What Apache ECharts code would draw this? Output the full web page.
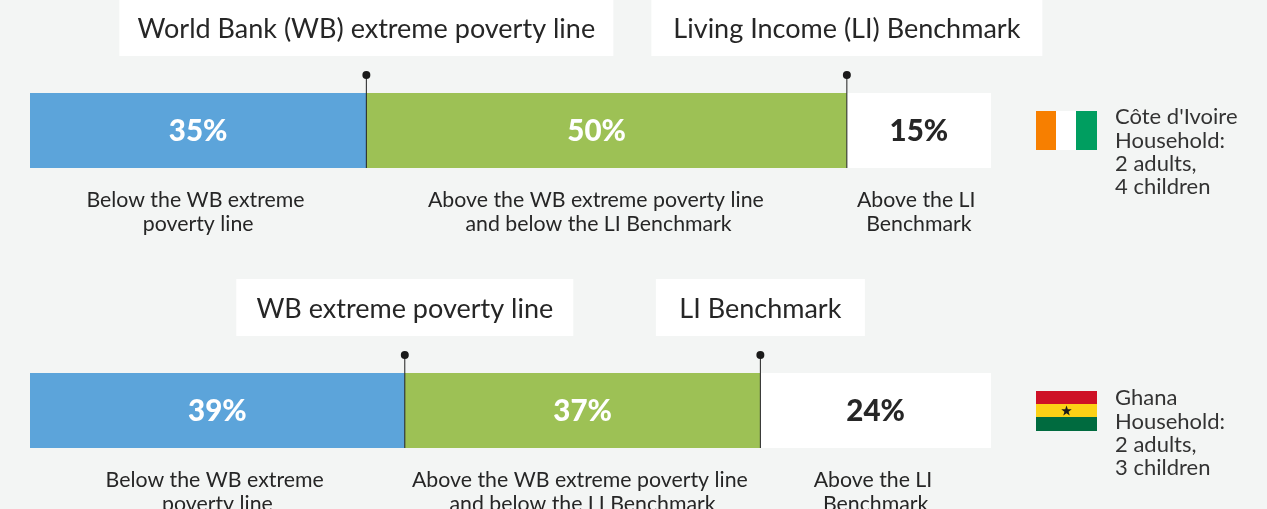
<!DOCTYPE html>
<html>
<head>
<meta charset="utf-8">
<title>Household income against poverty lines</title>
<script src="https://cdn.jsdelivr.net/npm/echarts@6/dist/echarts.min.js"></script>
<style>
  html, body { margin: 0; padding: 0; background: #f3f5f4; overflow: hidden; }
  #chart { width: 1267px; height: 509px; }
</style>
</head>
<body>
<div id="chart"></div>
<script>
const segments = ['Below', 'Between', 'Above']
const civValues = [35, 50, 15]
const ghanaValues = [39, 37, 24]
const civMarkers = ['World Bank (WB) extreme poverty line', 'Living Income (LI) Benchmark']
const ghanaMarkers = ['WB extreme poverty line', 'LI Benchmark']
// the source has a trailing space on the first lines, which shifts them left a little
const segmentNotes = [
  'Below the WB extreme \npoverty line',
  'Above the WB extreme poverty line \nand below the LI Benchmark',
  'Above the LI \nBenchmark',
]
const civCaption = "Côte d'Ivoire\nHousehold:\n2 adults,\n4 children"
const ghanaCaption = 'Ghana\nHousehold:\n2 adults,\n3 children'

const FONT = 'Lato, "Noto Sans", sans-serif'
const INK = '#262626'
const colors = ['#5ca4da', '#9dc155', '#ffffff']
const labelColors = ['#fff', '#fff', INK]
// boxWidths: white marker boxes, shift: px the reference moves the middle text off centre
const rows = [
  { top: 93, values: civValues, markers: civMarkers, boxWidths: [494, 391], labelShift: [0, -10, 0], noteShift: [0, -8, 0] },
  { top: 373, values: ghanaValues, markers: ghanaMarkers, boxWidths: [337, 209], labelShift: [0, 0, 0], noteShift: [0, 0, 0] },
]

// running totals, so markers and notes follow the bar segments
function cumulative(values) {
  let sum = 0
  return values.map(v => (sum += v))
}

function barSeries(row, gridIndex) {
  return row.values.map((v, i) => ({
    type: 'bar',
    name: segments[i],
    stack: 'row' + gridIndex,
    xAxisIndex: gridIndex,
    yAxisIndex: gridIndex,
    data: [v],
    barWidth: 75,
    itemStyle: { color: colors[i] },
    label: {
      show: true,
      position: 'inside',
      offset: [row.labelShift[i], 1],
      formatter: '{c}%',
      fontFamily: FONT,
      fontSize: 29.5,
      fontWeight: 900,
      color: labelColors[i],
    },
  }))
}

function markerSeries(row, gridIndex) {
  const ends = cumulative(row.values)
  return {
    type: 'custom',
    z: 5,
    xAxisIndex: gridIndex,
    yAxisIndex: gridIndex,
    data: row.markers.map((name, i) => [ends[i], 0, name]),
    renderItem(params, api) {
      const p = api.coord([api.value(0), 0])
      const x = p[0]
      const boxWidth = row.boxWidths[params.dataIndex]
      return {
        type: 'group',
        children: [
          { type: 'rect', shape: { x: x - boxWidth / 2, y: p[1] - 131.5, width: boxWidth, height: 57 }, style: { fill: '#fff' } },
          { type: 'line', shape: { x1: x, y1: p[1] - 55, x2: x, y2: p[1] + 37.5 }, style: { stroke: '#1f1f1f', lineWidth: 1 } },
          { type: 'circle', shape: { cx: x, cy: p[1] - 55.5, r: 4 }, style: { fill: '#1a1a1a' } },
          {
            type: 'text',
            style: {
              text: row.markers[params.dataIndex],
              x: x,
              y: p[1] - 101,
              align: 'center',
              verticalAlign: 'middle',
              font: '400 27px ' + FONT,
              fill: INK,
            },
          },
        ],
      }
    },
  }
}

function noteSeries(row, gridIndex) {
  const ends = cumulative(row.values)
  return {
    type: 'custom',
    z: 5,
    xAxisIndex: gridIndex,
    yAxisIndex: gridIndex,
    data: row.values.map((v, i) => [ends[i] - v / 2, 0]),
    renderItem(params, api) {
      const p = api.coord([api.value(0), 0])
      return {
        type: 'text',
        style: {
          text: segmentNotes[params.dataIndex],
          x: p[0] + row.noteShift[params.dataIndex],
          y: p[1] + 82,
          align: 'center',
          verticalAlign: 'middle',
          font: '400 21.3px ' + FONT,
          lineHeight: 24,
          fill: INK,
        },
      }
    },
  }
}

function starPoints(cx, cy, outer, inner) {
  const pts = []
  for (let i = 0; i < 10; i++) {
    const r = i % 2 ? inner : outer
    const a = -Math.PI / 2 + i * Math.PI / 5
    pts.push([cx + r * Math.cos(a), cy + r * Math.sin(a)])
  }
  return pts
}

function rect(x, y, width, height, fill) {
  return { type: 'rect', shape: { x, y, width, height }, style: { fill } }
}

function caption(text, y) {
  return {
    type: 'text',
    x: 1115,
    y,
    style: { text, font: '400 22px ' + FONT, lineHeight: 23.3, fill: '#333', verticalAlign: 'top' },
  }
}

const chart = echarts.init(document.getElementById('chart'))
chart.setOption({
  backgroundColor: '#f3f5f4',
  animation: false,
  textStyle: { fontFamily: FONT },
  grid: rows.map(r => ({ left: 30, width: 961, top: r.top, height: 75 })),
  xAxis: rows.map((r, i) => ({ type: 'value', gridIndex: i, min: 0, max: 100, show: false })),
  yAxis: rows.map((r, i) => ({ type: 'category', gridIndex: i, data: ['Household'], show: false })),
  series: rows.flatMap((r, i) => [...barSeries(r, i), markerSeries(r, i), noteSeries(r, i)]),
  graphic: [
    rect(1036, 111, 20, 39, '#f77f00'),
    rect(1056, 111, 20, 39, '#ffffff'),
    rect(1076, 111, 21, 39, '#009e60'),
    rect(1036, 391, 61, 13, '#ce1126'),
    rect(1036, 404, 61, 13, '#fcd116'),
    rect(1036, 417, 61, 14, '#006b3f'),
    { type: 'polygon', shape: { points: starPoints(1066.5, 411, 5.5, 2.2) }, style: { fill: '#1a1a1a' } },
    caption(civCaption, 105.5),
    caption(ghanaCaption, 386.5),
  ],
})
</script>
</body>
</html>
